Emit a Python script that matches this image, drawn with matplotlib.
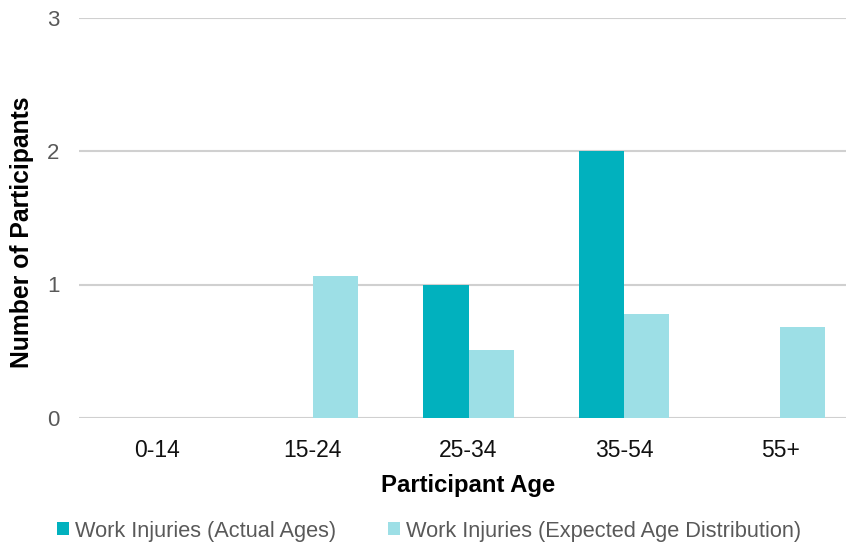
import matplotlib.pyplot as plt
import numpy as np

plt.rcParams['font.family'] = ['Liberation Sans', 'DejaVu Sans']

ages = ['0-14', '15-24', '25-34', '35-54', '55+']
actual = [0, 0, 1, 2, 0]
expected = [0, 1.06, 0.51, 0.78, 0.68]

teal = '#01B1BE'
light = '#9DDFE6'

fig = plt.figure(figsize=(8.46, 5.49), dpi=100)
ax = fig.add_axes([79 / 846, 131 / 549, 779 / 846, 400.5 / 549])

x = np.arange(len(ages))
w = 0.29
ax.bar(x - w / 2, actual, w, color=teal, label='Work Injuries (Actual Ages)', zorder=3)
ax.bar(x + w / 2, expected, w, color=light, label='Work Injuries (Expected Age Distribution)', zorder=3)

ax.set_xlim(-0.5, 4.5)
ax.set_ylim(0, 3)
ax.set_yticks([0, 1, 2, 3])
ax.yaxis.grid(True, color='#D0D0D0', linewidth=1.5, zorder=0)
ax.set_xticks(x)
ax.set_xticklabels(ages)
ax.tick_params(axis='x', length=0, pad=15, labelsize=16.5, labelcolor='#111111')
ax.tick_params(axis='y', length=0, pad=14, labelsize=16, labelcolor='#595959')
for s in ax.spines.values():
    s.set_visible(False)

ax.set_xlabel('Participant Age', fontsize=17.2, fontweight='bold', labelpad=9)
ax.set_ylabel('Number of Participants', fontsize=17.8, fontweight='bold')
ax.yaxis.set_label_coords(-0.058, 0.464)

fig.legend(loc='center', bbox_to_anchor=(429 / 846, 1 - 531 / 549), ncol=2,
           frameon=False, fontsize=15.7, handlelength=0.55, handleheight=0.55,
           handletextpad=0.25, columnspacing=2.4, labelcolor='#595959')

fig.savefig('out.png', dpi=100)
